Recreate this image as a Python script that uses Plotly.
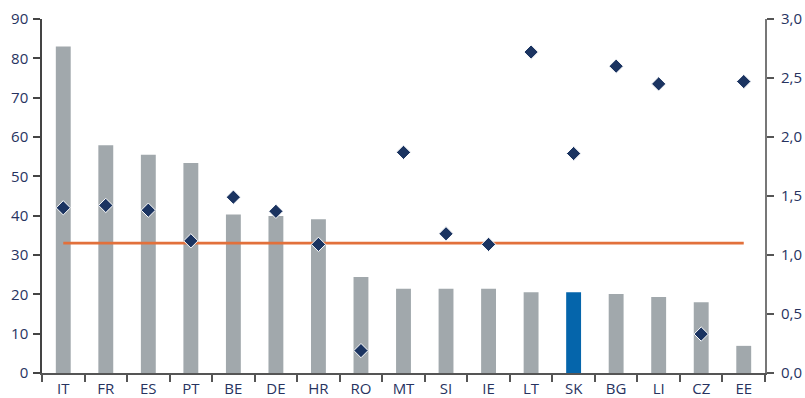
import plotly.graph_objects as go

# Country codes along the category axis
countries = ["IT", "FR", "ES", "PT", "BE", "DE", "HR", "RO", "MT",
             "SI", "IE", "LT", "SK", "BG", "LI", "CZ", "EE"]

# Bar series (left axis)
bar_values = [83.0, 57.9, 55.5, 53.4, 40.3, 39.9, 39.1, 24.4, 21.4,
              21.4, 21.4, 20.5, 20.5, 20.1, 19.3, 18.0, 6.9]

# Diamond series (right axis)
diamond_values = [1.40, 1.42, 1.38, 1.12, 1.49, 1.37, 1.09, 0.19, 1.87,
                  1.18, 1.09, 2.72, 1.86, 2.60, 2.45, 0.33, 2.47]

# Reference level drawn as a horizontal line (left axis)
reference_level = 33

highlight = "SK"

GREY = "#a1a8ac"
BLUE = "#0565ab"
NAVY = "#1b3461"
ORANGE = "#e2703b"
TEXT = "#27335f"

bar_colors = [BLUE if c == highlight else GREY for c in countries]

fig = go.Figure()

fig.add_trace(go.Bar(
    x=countries, y=bar_values,
    marker=dict(color=bar_colors, line=dict(width=0)),
    width=0.35, yaxis="y", showlegend=False,
))

fig.add_trace(go.Scatter(
    x=countries, y=[reference_level] * len(countries),
    mode="lines", line=dict(color=ORANGE, width=2.8),
    yaxis="y", showlegend=False,
))

fig.add_trace(go.Scatter(
    x=countries, y=diamond_values,
    mode="markers",
    marker=dict(symbol="diamond", size=11, color=NAVY,
                line=dict(color="white", width=1)),
    yaxis="y2", showlegend=False,
))

font = dict(family="Open Sans", size=15, color=TEXT)

fig.update_layout(
    width=805, height=398,
    margin=dict(l=42, r=40, t=19, b=25, autoexpand=False),
    paper_bgcolor="white", plot_bgcolor="white",
    separators=",.",
    font=font,
    xaxis=dict(
        type="category", automargin=False,
        range=[-0.5, len(countries) - 0.5],
        showgrid=False, zeroline=False,
        showline=True, linecolor="#555555", linewidth=1.5,
        ticks="outside", ticklen=7, tickwidth=1.5, tickcolor="#555555",
        tickson="boundaries",
        tickfont=font,
        ticklabelstandoff=1,
    ),
    yaxis=dict(
        range=[0, 90], dtick=10, automargin=False,
        showgrid=False, zeroline=False,
        showline=True, linecolor="#444444", linewidth=1.5,
        ticks="outside", ticklen=7, tickwidth=1.5, tickcolor="#444444",
        tickfont=font,
        ticklabelstandoff=2,
    ),
    yaxis2=dict(
        range=[0, 3], dtick=0.5, tickformat=".1f", automargin=False,
        overlaying="y", side="right",
        showgrid=False, zeroline=False,
        showline=True, linecolor="#777777", linewidth=2,
        ticks="outside", ticklen=7, tickwidth=1.5, tickcolor="#555555",
        tickfont=font,
        ticklabelstandoff=4,
    ),
)

fig.write_html("out.html")
